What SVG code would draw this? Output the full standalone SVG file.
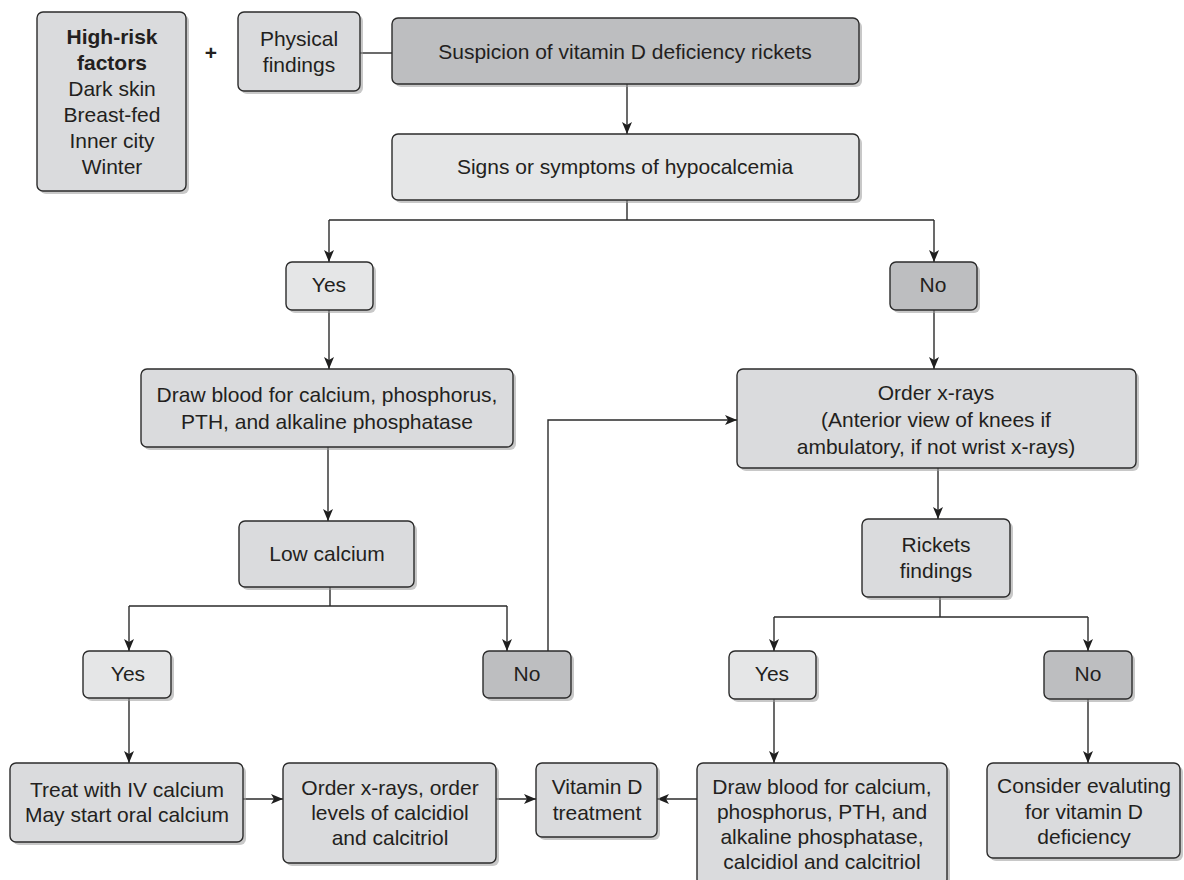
<svg xmlns="http://www.w3.org/2000/svg" width="1184" height="880" viewBox="0 0 1184 880">
<style>
.box{stroke:#2b2b2b;stroke-width:1.4}
.sh{fill:#9a9a9a;opacity:0.55}
.lt{fill:#e5e6e7}
.md{fill:#dadbdd}
.dk{fill:#bdbec0}
text{font-family:"Liberation Sans",Arial,Helvetica,sans-serif;font-size:21px;fill:#231f20;text-anchor:middle}
.b{font-weight:bold}
.c{fill:none;stroke:#2b2b2b;stroke-width:1.4}
</style>
<defs>
<marker id="ah" viewBox="0 0 12 10" refX="12" refY="5" markerWidth="12" markerHeight="10" markerUnits="userSpaceOnUse" orient="auto">
<path d="M0,0 L12,5 L0,10 L3,5 Z" fill="#1f1f1f"/>
</marker>
</defs>
<rect width="1184" height="880" fill="#ffffff"/>

<g id="connectors">
<path class="c" d="M360,53 H392"/>
<path class="c" d="M627,84 V134" marker-end="url(#ah)"/>
<path class="c" d="M627,200 V220 M329,220 H934"/>
<path class="c" d="M329,220 V262" marker-end="url(#ah)"/>
<path class="c" d="M934,220 V262" marker-end="url(#ah)"/>
<path class="c" d="M329,310 V369" marker-end="url(#ah)"/>
<path class="c" d="M934,310 V369" marker-end="url(#ah)"/>
<path class="c" d="M328,447 V521" marker-end="url(#ah)"/>
<path class="c" d="M330,587 V606 M129,606 H507"/>
<path class="c" d="M129,606 V651" marker-end="url(#ah)"/>
<path class="c" d="M507,606 V651" marker-end="url(#ah)"/>
<path class="c" d="M129,698 V763" marker-end="url(#ah)"/>
<path class="c" d="M548,651 V420 H737" marker-end="url(#ah)"/>
<path class="c" d="M938,468 V519" marker-end="url(#ah)"/>
<path class="c" d="M940,597 V617 M774,617 H1088"/>
<path class="c" d="M774,617 V651" marker-end="url(#ah)"/>
<path class="c" d="M1088,617 V651" marker-end="url(#ah)"/>
<path class="c" d="M774,699 V763" marker-end="url(#ah)"/>
<path class="c" d="M1088,699 V763" marker-end="url(#ah)"/>
<path class="c" d="M243,799 H283" marker-end="url(#ah)"/>
<path class="c" d="M496,799 H536" marker-end="url(#ah)"/>
<path class="c" d="M697,799 H657" marker-end="url(#ah)"/>
</g>

<g id="risk">
<rect class="sh" x="40" y="15" width="149" height="179" rx="6"/>
<rect class="box md" x="37" y="12" width="149" height="179" rx="6"/>
<text class="b" x="112" y="44">High-risk</text>
<text class="b" x="112" y="70">factors</text>
<text x="112" y="96">Dark skin</text>
<text x="112" y="122">Breast-fed</text>
<text x="112" y="148">Inner city</text>
<text x="112" y="174">Winter</text>
</g>
<g id="plus"><text class="b" x="211" y="60">+</text></g>

<g id="physical">
<rect class="sh" x="241" y="15" width="122" height="79" rx="6"/>
<rect class="box md" x="238" y="12" width="122" height="79" rx="6"/>
<text x="299" y="46">Physical</text>
<text x="299" y="72">findings</text>
</g>

<g id="suspicion">
<rect class="sh" x="395" y="21" width="467" height="66" rx="6"/>
<rect class="box dk" x="392" y="18" width="467" height="66" rx="6"/>
<text x="625" y="59">Suspicion of vitamin D deficiency rickets</text>
</g>

<g id="signs">
<rect class="sh" x="395" y="137" width="467" height="66" rx="6"/>
<rect class="box lt" x="392" y="134" width="467" height="66" rx="6"/>
<text x="625" y="174">Signs or symptoms of hypocalcemia</text>
</g>

<g id="yes1">
<rect class="sh" x="289" y="265" width="87" height="48" rx="6"/>
<rect class="box lt" x="286" y="262" width="87" height="48" rx="6"/>
<text x="329" y="292">Yes</text>
</g>

<g id="no1">
<rect class="sh" x="893" y="265" width="87" height="48" rx="6"/>
<rect class="box dk" x="890" y="262" width="87" height="48" rx="6"/>
<text x="933" y="292">No</text>
</g>

<g id="drawblood1">
<rect class="sh" x="144" y="372" width="372" height="78" rx="6"/>
<rect class="box md" x="141" y="369" width="372" height="78" rx="6"/>
<text x="327" y="402">Draw blood for calcium, phosphorus,</text>
<text x="327" y="429">PTH, and alkaline phosphatase</text>
</g>

<g id="orderxrays">
<rect class="sh" x="740" y="372" width="399" height="99" rx="6"/>
<rect class="box md" x="737" y="369" width="399" height="99" rx="6"/>
<text x="936" y="400">Order x-rays</text>
<text x="936" y="427">(Anterior view of knees if</text>
<text x="936" y="454">ambulatory, if not wrist x-rays)</text>
</g>

<g id="lowcalcium">
<rect class="sh" x="242" y="524" width="175" height="66" rx="6"/>
<rect class="box md" x="239" y="521" width="175" height="66" rx="6"/>
<text x="327" y="561">Low calcium</text>
</g>

<g id="rickets">
<rect class="sh" x="865" y="522" width="148" height="78" rx="6"/>
<rect class="box md" x="862" y="519" width="148" height="78" rx="6"/>
<text x="936" y="552">Rickets</text>
<text x="936" y="578">findings</text>
</g>

<g id="yes2">
<rect class="sh" x="86" y="654" width="88" height="47" rx="6"/>
<rect class="box lt" x="83" y="651" width="88" height="47" rx="6"/>
<text x="128" y="681">Yes</text>
</g>

<g id="no2">
<rect class="sh" x="486" y="654" width="88" height="47" rx="6"/>
<rect class="box dk" x="483" y="651" width="88" height="47" rx="6"/>
<text x="527" y="681">No</text>
</g>

<g id="yes3">
<rect class="sh" x="732" y="654" width="87" height="48" rx="6"/>
<rect class="box lt" x="729" y="651" width="87" height="48" rx="6"/>
<text x="772" y="681">Yes</text>
</g>

<g id="no3">
<rect class="sh" x="1047" y="654" width="88" height="48" rx="6"/>
<rect class="box dk" x="1044" y="651" width="88" height="48" rx="6"/>
<text x="1088" y="681">No</text>
</g>

<g id="treat">
<rect class="sh" x="13" y="766" width="233" height="79" rx="6"/>
<rect class="box md" x="10" y="763" width="233" height="79" rx="6"/>
<text x="127" y="797">Treat with IV calcium</text>
<text x="127" y="822">May start oral calcium</text>
</g>

<g id="orderlevels">
<rect class="sh" x="286" y="766" width="213" height="100" rx="6"/>
<rect class="box md" x="283" y="763" width="213" height="100" rx="6"/>
<text x="390" y="795">Order x-rays, order</text>
<text x="390" y="820">levels of calcidiol</text>
<text x="390" y="845">and calcitriol</text>
</g>

<g id="vitamind">
<rect class="sh" x="539" y="766" width="121" height="74" rx="6"/>
<rect class="box md" x="536" y="763" width="121" height="74" rx="6"/>
<text x="597" y="794">Vitamin D</text>
<text x="597" y="820">treatment</text>
</g>

<g id="drawblood2">
<rect class="sh" x="700" y="766" width="250" height="122" rx="6"/>
<rect class="box md" x="697" y="763" width="250" height="122" rx="6"/>
<text x="822" y="794">Draw blood for calcium,</text>
<text x="822" y="819">phosphorus, PTH, and</text>
<text x="822" y="844">alkaline phosphatase,</text>
<text x="822" y="869">calcidiol and calcitriol</text>
</g>

<g id="consider">
<rect class="sh" x="990" y="766" width="193" height="95" rx="6"/>
<rect class="box md" x="987" y="763" width="193" height="95" rx="6"/>
<text x="1084" y="793">Consider evaluting</text>
<text x="1084" y="819">for vitamin D</text>
<text x="1084" y="844">deficiency</text>
</g>
</svg>
